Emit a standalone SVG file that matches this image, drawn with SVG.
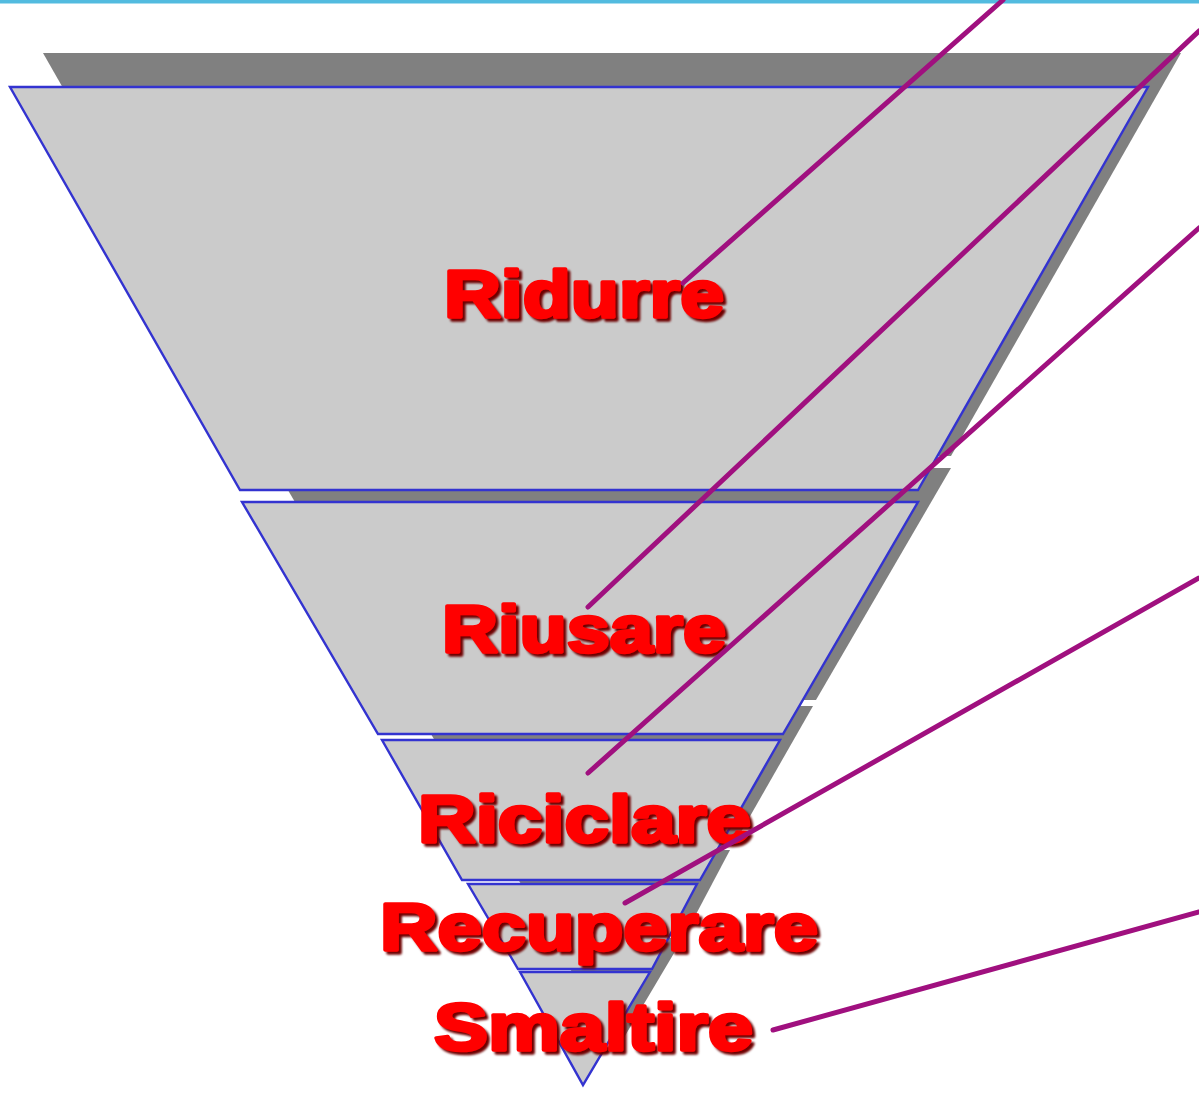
<svg xmlns="http://www.w3.org/2000/svg" width="1199" height="1111" viewBox="0 0 1199 1111">
  <defs>
    <filter id="txtshadow" x="-5%" y="-20%" width="115%" height="150%">
      <feDropShadow dx="3" dy="3" stdDeviation="0.8" flood-color="#6e0606" flood-opacity="1"/>
    </filter>
    <style>
      .shadow { fill: #808080; }
      .tier { fill: #cbcbcb; stroke: #3333d0; stroke-width: 2.4; stroke-linejoin: miter; }
      .lbl { font-family: "Liberation Sans", Arial, sans-serif; font-weight: bold; font-size: 67px; fill: #ff0000; stroke: #ff0000; stroke-width: 3.5; stroke-linejoin: round; filter: url(#txtshadow); }
      .conn { stroke: #a0107f; stroke-width: 5; stroke-linecap: round; fill: none; }
    </style>
  </defs>
  <rect x="0" y="0" width="1199" height="1111" fill="#ffffff"/>
  <rect x="0" y="0" width="1199" height="3.5" fill="#52bbdf"/>

  <g id="shadows" transform="translate(33,-34)">
    <polygon class="shadow" points="10,87 1148,87 918,490 240,490"/>
    <polygon class="shadow" points="242,502 918,502 783,734 378,734"/>
    <polygon class="shadow" points="382,740 780,740 700,880 462,880"/>
    <polygon class="shadow" points="468,884 697,884 652,969 518,969"/>
    <polygon class="shadow" points="520,972 650,972 583,1085"/>
  </g>

  <g id="ridurre">
    <polygon class="tier" points="10,87 1148,87 918,490 240,490"/>
  </g>
  <g id="riusare">
    <polygon class="tier" points="242,502 918,502 783,734 378,734"/>
  </g>
  <g id="riciclare">
    <polygon class="tier" points="382,740 780,740 700,880 462,880"/>
  </g>
  <g id="recuperare">
    <polygon class="tier" points="468,884 697,884 652,969 518,969"/>
  </g>
  <g id="smaltire">
    <polygon class="tier" points="520,972 650,972 583,1085"/>
  </g>

  <g id="labels">
    <text class="lbl" x="444" y="317" textLength="280" lengthAdjust="spacingAndGlyphs">Ridurre</text>
    <text class="lbl" x="442" y="652" textLength="284" lengthAdjust="spacingAndGlyphs">Riusare</text>
    <text class="lbl" x="418" y="842" textLength="333" lengthAdjust="spacingAndGlyphs">Riciclare</text>
    <text class="lbl" x="380" y="950" textLength="438" lengthAdjust="spacingAndGlyphs">Recuperare</text>
    <text class="lbl" x="434" y="1050" textLength="319" lengthAdjust="spacingAndGlyphs">Smaltire</text>
  </g>

  <g id="connectors">
    <line class="conn" x1="1003" y1="0" x2="683" y2="283"/>
    <line class="conn" x1="1199" y1="31" x2="588" y2="607"/>
    <line class="conn" x1="1199" y1="228" x2="588" y2="773"/>
    <line class="conn" x1="1199" y1="578" x2="625" y2="903"/>
    <line class="conn" x1="1199" y1="912" x2="773" y2="1030"/>
  </g>
</svg>
